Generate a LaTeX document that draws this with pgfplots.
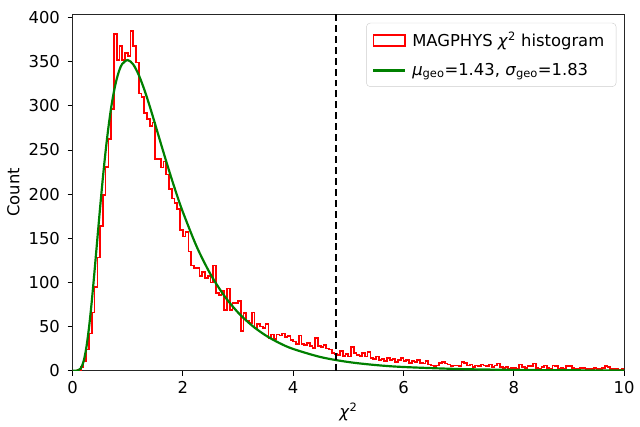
\documentclass[border=0pt]{standalone}
\usepackage{pgfplots}
\pgfplotsset{compat=1.18}
\usetikzlibrary{calc}
\usepackage{fontspec}
\setmainfont{DejaVu Sans}
\definecolor{mplgreen}{HTML}{008000}
\begin{document}
\fontsize{16.5}{19}\selectfont
\begin{tikzpicture}
\begin{axis}[
  scale only axis,
  width=555pt, height=359pt,
  xmin=0, xmax=10, ymin=0, ymax=404,
  xtick={0,2,4,6,8,10},
  ytick={0,50,100,150,200,250,300,350,400},
  tick align=outside,
  xtick pos=bottom, ytick pos=left,
  major tick length=5pt,
  every tick/.style={black, line width=0.8pt},
  axis line style={black!85, line width=0.8pt},
  /pgf/number format/assume math mode=true,
  ticklabel style={font=\fontsize{16.5}{19}\selectfont},
  yticklabel style={xshift=-2pt},
  xlabel={\textit{χ}\textsuperscript{2}},
  ylabel={Count},
  label style={font=\fontsize{16.5}{19}\selectfont},
  xlabel style={yshift=2pt},
  ylabel style={yshift=-2pt},
  legend style={at={(rel axis cs:0.986,0.975)}, anchor=north east,
    draw=black!20, rounded corners=4pt, font=\fontsize{16.5}{19}\selectfont,
    row sep=10pt, inner xsep=6pt, inner ysep=7pt,
    nodes={inner xsep=6pt}},
  legend cell align=left,
]
\addplot[red, line width=1.7pt, const plot mark left, forget plot] coordinates {
(0.00,0) (0.05,0) (0.10,1) (0.15,4) (0.20,11) (0.25,24) (0.30,42) (0.35,66) (0.40,95) (0.45,128)
(0.50,164) (0.55,199) (0.60,231) (0.65,262) (0.70,296) (0.75,381) (0.80,352) (0.85,368) (0.90,352) (0.95,360)
(1.00,356) (1.05,385) (1.10,368) (1.15,349) (1.20,314) (1.25,310) (1.30,292) (1.35,285) (1.40,277) (1.45,281)
(1.50,240) (1.55,240) (1.60,230) (1.65,237) (1.70,222) (1.75,206) (1.80,195) (1.85,190) (1.90,183) (1.95,159)
(2.00,152) (2.05,157) (2.10,135) (2.15,119) (2.20,116) (2.25,116) (2.30,107) (2.35,112) (2.40,105) (2.45,107)
(2.50,100) (2.55,119) (2.60,88) (2.65,86) (2.70,90) (2.75,69) (2.80,93) (2.85,69) (2.90,77) (2.95,77)
(3.00,79) (3.05,45) (3.10,65) (3.15,57) (3.20,54) (3.25,66) (3.30,48) (3.35,53) (3.40,50) (3.45,48)
(3.50,53) (3.55,37) (3.60,41) (3.65,36) (3.70,41) (3.75,40) (3.80,42) (3.85,38) (3.90,39) (3.95,35)
(4.00,33) (4.05,30) (4.10,40) (4.15,30) (4.20,29) (4.25,31) (4.30,28) (4.35,26) (4.40,37) (4.45,28)
(4.50,27) (4.55,29) (4.60,25) (4.65,24) (4.70,20) (4.75,19) (4.80,18) (4.85,22) (4.90,17) (4.95,19)
(5.00,16) (5.05,27) (5.10,20) (5.15,18) (5.20,17) (5.25,20) (5.30,16) (5.35,21) (5.40,14) (5.45,13)
(5.50,16) (5.55,12) (5.60,13) (5.65,11) (5.70,14) (5.75,12) (5.80,13) (5.85,10) (5.90,12) (5.95,14)
(6.00,11) (6.05,12) (6.10,9) (6.15,11) (6.20,10) (6.25,12) (6.30,9) (6.35,8) (6.40,11) (6.45,7)
(6.50,6) (6.55,5) (6.60,6) (6.65,9) (6.70,10) (6.75,8) (6.80,7) (6.85,5) (6.90,6) (6.95,6)
(7.00,5) (7.05,10) (7.10,9) (7.15,6) (7.20,7) (7.25,4) (7.30,6) (7.35,5) (7.40,7) (7.45,6)
(7.50,5) (7.55,7) (7.60,4) (7.65,6) (7.70,8) (7.75,4) (7.80,3) (7.85,4) (7.90,2) (7.95,3)
(8.00,3) (8.05,2) (8.10,7) (8.15,4) (8.20,3) (8.25,5) (8.30,5) (8.35,8) (8.40,3) (8.45,2)
(8.50,4) (8.55,6) (8.60,3) (8.65,2) (8.70,6) (8.75,5) (8.80,2) (8.85,3) (8.90,2) (8.95,5)
(9.00,5) (9.05,3) (9.10,2) (9.15,2) (9.20,3) (9.25,3) (9.30,2) (9.35,2) (9.40,2) (9.45,3)
(9.50,2) (9.55,2) (9.60,3) (9.65,5) (9.70,4) (9.75,2) (9.80,2) (9.85,2) (9.90,1) (9.95,2)
(10.00,2) (10.00,0)
};
\addlegendimage{legend image code/.code={\draw[red, line width=1.7pt, sharp corners] (0pt,-5.5pt) rectangle (32pt,5.5pt);}}
\addlegendentry{MAGPHYS \textit{χ}\textsuperscript{2} histogram}
\addplot[mplgreen, line width=2.2pt, smooth, legend image code/.code={\draw[mplgreen, line width=2.2pt, sharp corners] (0pt,0pt) -- (32pt,0pt);}] coordinates {
(0,0) (0.05,0) (0.1,0.26) (0.15,2.65) (0.2,10.5) (0.25,26.1) (0.3,49.6) (0.35,79.5) (0.4,113.6) (0.45,149.4)
(0.5,184.9) (0.55,218.4) (0.6,248.8) (0.65,275.3) (0.7,297.8) (0.75,316.0) (0.8,330.2) (0.85,340.5) (0.9,347.3)
(1.0,351.8) (1.1,346.8) (1.2,334.9) (1.3,318.5) (1.4,299.3) (1.5,278.6) (1.6,257.5) (1.7,236.7) (1.8,216.6) (1.9,197.5)
(2.0,179.7) (2.25,140.6) (2.5,109.4) (2.75,84.9) (3.0,65.9) (3.25,51.3) (3.5,40.0) (3.75,31.3) (4.0,24.6)
(4.5,15.4) (5.0,9.82) (5.5,6.36) (6.0,4.18) (7.0,1.89) (8.0,0.91) (9.0,0.45) (10.0,0.24)
};
\addlegendentry{\textit{μ}\textsubscript{geo}=1.43, \textit{σ}\textsubscript{geo}=1.83}
\addplot[black, line width=2pt, dash pattern=on 7pt off 4pt, forget plot] coordinates {(4.77,0) (4.77,404)};
\end{axis}
\path (current axis.south west) ++(-73pt,-53pt) rectangle ($(current axis.north east)+(12pt,14pt)$);
\end{tikzpicture}
\end{document}
